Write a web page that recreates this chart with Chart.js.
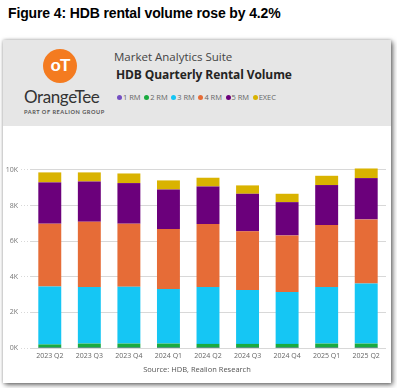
<!DOCTYPE html>
<html>
<head>
<meta charset="utf-8">
<script src="https://cdn.jsdelivr.net/npm/chart.js@4/dist/chart.umd.min.js"></script>
<style>
  html, body { margin:0; padding:0; background:#fff; width:397px; height:388px; overflow:hidden; font-family:"Open Sans", "Liberation Sans", sans-serif; }
  #title { position:absolute; left:8px; top:5px; font-family:"Liberation Sans", sans-serif; font-weight:bold; font-size:14px; color:#000; white-space:nowrap; letter-spacing:-0.13px; }
  #card { position:absolute; left:3px; top:40px; width:388px; height:343px; background:#fff; box-shadow:2px 2px 5px rgba(0,0,0,0.55), 0 0 3px rgba(0,0,0,0.25); }
  #header { position:absolute; left:0; top:0; width:388px; height:86px; background:#e6e6e6; }
  #logo { position:absolute; left:40px; top:9px; width:34px; height:34px; border-radius:50%; background:#f47b20; color:#fff; font-family:"Liberation Sans", sans-serif; font-weight:bold; font-size:17px; text-align:center; line-height:34px; letter-spacing:-1px; }
  #brand { position:absolute; left:21px; top:46px; font-family:"Lato", sans-serif; font-size:17px; color:#333; letter-spacing:-0.4px; white-space:nowrap; }
  #brandsub { position:absolute; left:21px; top:68px; font-family:"Lato", sans-serif; font-size:5.6px; color:#555; letter-spacing:0.55px; white-space:nowrap; font-weight:bold; }
  #suite { position:absolute; left:111px; top:9px; font-size:11.5px; color:#444; white-space:nowrap; }
  #ctitle { position:absolute; left:113px; top:26px; font-size:12px; font-weight:bold; color:#252423; white-space:nowrap; letter-spacing:-0.1px; }
  #legend { position:absolute; left:114px; top:52px; font-size:7.5px; color:#666; white-space:nowrap; display:flex; }
  #legend span.item { margin-right:3.5px; display:flex; align-items:center; }
  #legend span.dot { display:inline-block; width:5px; height:5px; border-radius:50%; margin-right:1px; }
  #chartwrap { position:absolute; left:0; top:86px; width:388px; height:257px; }
  #source { position:absolute; left:0; width:388px; top:324px; text-align:center; font-size:7.5px; color:#555; }
</style>
</head>
<body>
<div id="title">Figure 4: HDB rental volume rose by 4.2%</div>
<div id="card">
  <div id="header">
    <div id="logo">oT</div>
    <div id="brand">OrangeTee</div>
    <div id="brandsub">PART OF REALION GROUP</div>
    <div id="suite">Market Analytics Suite</div>
    <div id="ctitle">HDB Quarterly Rental Volume</div>
    <div id="legend"></div>
  </div>
  <div id="chartwrap"><canvas id="c" width="388" height="257"></canvas></div>
  <div id="source">Source: HDB, Realion Research</div>
</div>
<script>
const quarters = ["2023 Q2","2023 Q3","2023 Q4","2024 Q1","2024 Q2","2024 Q3","2024 Q4","2025 Q1","2025 Q2"];
const seriesNames = ["1 RM","2 RM","3 RM","4 RM","5 RM","EXEC"];
const rm1  = [10, 10, 10, 10, 10, 10, 10, 10, 10];
const rm2  = [190, 240, 240, 240, 220, 220, 220, 240, 240];
const rm3  = [3250, 3170, 3190, 3060, 3190, 3020, 2910, 3170, 3370];
const rm4  = [3530, 3670, 3540, 3370, 3540, 3300, 3180, 3480, 3600];
const rm5  = [2320, 2260, 2280, 2220, 2110, 2110, 1870, 2250, 2320];
const exec = [560, 510, 540, 510, 490, 470, 470, 520, 540];
const yTicks = [0, 2000, 4000, 6000, 8000, 10000];
const colors = ["#744EC2","#1AAB40","#15C6F4","#E66C37","#6B007B","#D9B300"];
const values = [rm1, rm2, rm3, rm4, rm5, exec];

const leg = document.getElementById('legend');
seriesNames.forEach((n,i)=>{
  const it = document.createElement('span'); it.className='item';
  const d = document.createElement('span'); d.className='dot'; d.style.background=colors[i];
  it.appendChild(d); it.appendChild(document.createTextNode(n)); leg.appendChild(it);
});

new Chart(document.getElementById('c'), {
  type: 'bar',
  data: {
    labels: quarters,
    datasets: seriesNames.map((n,i)=>({ label:n, data:values[i], backgroundColor:colors[i], borderWidth:0, categoryPercentage:1, barPercentage:0.58 }))
  },
  options: {
    responsive:false, animation:false,
    layout:{ padding:{ top:35, right:5, bottom:0, left:0 } },
    plugins:{ legend:{display:false}, tooltip:{enabled:false} },
    scales:{
      x:{ stacked:true, grid:{display:false, drawTicks:false}, border:{display:false},
          ticks:{ color:'#666', font:{family:'Open Sans', size:7}, padding:4, maxRotation:0 },
          afterFit:(s)=>{ s.height = 35; } },
      y:{ stacked:true, min:0, max:10500,
          afterBuildTicks:(s)=>{ s.ticks = yTicks.map(v=>({value:v})); },
          ticks:{ color:'#777', font:{family:'Open Sans', size:7}, padding:3, callback:(v)=> (v/1000)+'K' },
          grid:{ color:'#d8d8d8', lineWidth:1, borderDash:[1,2], tickLength:9, tickColor:'#d8d8d8', tickBorderDash:[1,2] },
          border:{display:false},
          afterFit:(s)=>{ s.width = 27; } }
    }
  }
});
</script>
</body>
</html>
